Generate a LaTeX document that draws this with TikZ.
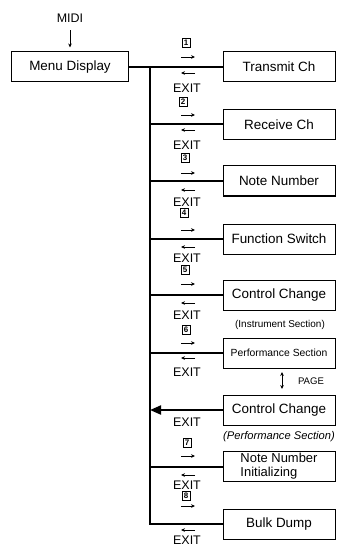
\documentclass[tikz,border=0pt]{standalone}
\usepackage{fontspec}
\setmainfont{Liberation Sans}
\usetikzlibrary{arrows.meta}
\begin{document}
\begin{tikzpicture}[x=1bp,y=-1bp,
  box/.style={draw, line width=1bp, minimum width=112bp, minimum height=30bp, inner sep=0pt, align=center, font=\fontsize{13.5}{14}\selectfont},
  conn/.style={line width=2bp},
  bigarr/.style={line width=2bp, -{Triangle[length=11bp,width=9bp]}},
  smallarr/.style={line width=0.8bp, -{Stealth[length=4bp,width=3.6bp]}},
  exitlbl/.style={font=\fontsize{12.5}{12}\selectfont, inner sep=0pt},
  num/.style={draw, line width=0.7bp, inner sep=0pt, minimum width=8bp, minimum height=9bp, font=\fontsize{8}{8}\selectfont\bfseries},
  note/.style={font=\fontsize{10}{10}\selectfont, inner sep=0pt},
]
\useasboundingbox (0,0) rectangle (336,548);

% main boxes
\node[box, minimum width=116bp] (menu) at (70,67) {Menu Display};
\node[font=\fontsize{12.5}{12}\selectfont, inner sep=0pt] (midi) at (70,18) {MIDI};
\node[box] (trans) at (279,67) {Transmit Ch};
\node[box] (recv) at (279,124.5) {Receive Ch};
\node[box] (note) at (279,181) {Note Number};
\node[box] (func) at (279,239) {Function Switch};
\node[box] (cc1) at (279,295) {Control Change};
\node[box, font=\fontsize{10.4}{11}\selectfont] (perf) at (279,353) {Performance Section};
\node[box] (cc2) at (279,410) {Control Change};
\node[box, align=left, font=\fontsize{13}{14}\selectfont] (nni) at (279,466.5) {Note Number\\Initializing};
\node[box] (bulk) at (279,524) {Bulk Dump};

\node[note] (inst) at (280,325) {(Instrument Section)};
\node[note, font=\fontsize{11.2}{11}\selectfont\itshape] (perfnote) at (279,437) {(Performance Section)};
\node[note, font=\fontsize{9.6}{10}\selectfont] (page) at (311,381) {PAGE};
\coordinate (pgT) at (282,372);
\coordinate (pgB) at (282,389);
\draw[line width=0.8bp, {Stealth[length=4bp,width=3.6bp]}-{Stealth[length=4bp,width=3.6bp]}] (pgT) -- (pgB);

% MIDI arrow
\draw[smallarr, shorten <=8bp, shorten >=4bp] (midi) -- (menu);

% connectors
\coordinate (spT) at (150,67);
\draw[conn] (menu.east) -- (trans.west);
\draw[conn] (spT) -- (spT |- bulk.west) -- (bulk.west);
\foreach \b in {recv,note,func,cc1,perf,nni}
  \draw[conn] (spT |- \b.west) -- (\b.west);
\draw[bigarr] (cc2.west) -- (spT |- cc2.west);

% small arrows
\foreach \y in {57,115,173,230,284,343,456,506}
  \draw[smallarr] (181,\y) -- (195,\y);
\foreach \y in {73,130,190,247,303,358,475,530}
  \draw[smallarr] (195,\y) -- (181,\y);

% EXIT labels
\foreach \y in {88,145,202,258,315,372,422,485,540}
  \node[exitlbl] at (187,\y) {EXIT};

% numbers
\node[num] at (186,43) {1};
\node[num] at (183,102) {2};
\node[num] at (185,158) {3};
\node[num] at (184,213) {4};
\node[num] at (185,270) {5};
\node[num] at (186,330) {6};
\node[num] at (187,443) {7};
\node[num] at (186,496) {8};
\end{tikzpicture}
\end{document}
